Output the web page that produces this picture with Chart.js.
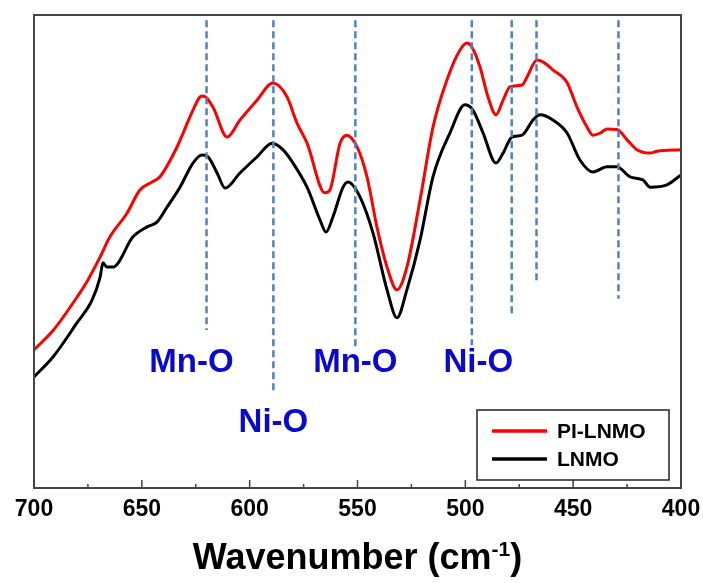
<!doctype html>
<html>
<head>
<meta charset="utf-8" />
<title>FTIR spectra | PI-LNMO vs LNMO</title>
<script src="https://cdn.jsdelivr.net/npm/chart.js@4.4.0/dist/chart.umd.min.js"></script>
<style>
	html, body { margin: 0; padding: 0; background: #fff; }
	canvas { display: block; }
</style>
</head>
<body>
<canvas id="ftir" width="703" height="583"></canvas>
<script>
// spectra (wavenumber in cm-1, intensity in arbitrary units)
const wavenumberPI = [700, 691, 680, 675, 669.4, 664.8, 656.9, 650.9, 645.3, 641.6, 633.7, 626.3, 623, 621.6, 617, 610.5, 604.5, 596.6, 589.2, 582.7, 578.1, 573.4, 565.1, 562.8, 558.1, 554.9, 550.2, 545.6, 541, 536.3, 531.7, 527.1, 521, 515, 508.5, 502.5, 499.2, 496.9, 493.2, 489.5, 485.8, 482.5, 479.3, 473.7, 471.4, 466.8, 464, 459.4, 452.9, 448.2, 443.6, 440.8, 437.6, 434.3, 429.7, 425, 420.4, 414.4, 411.1, 400];
const intensityPI = [29.2, 33.4, 40.4, 44.0, 48.8, 53.1, 58.1, 63.0, 64.7, 65.8, 72.1, 79.9, 82.7, 82.9, 80.5, 74.2, 77.8, 82.0, 85.6, 82.7, 77.2, 72.9, 62.4, 63.0, 72.9, 74.6, 72.1, 65.8, 55.2, 46.7, 41.9, 46.7, 60.9, 76.3, 86.3, 92.6, 94.1, 93.2, 89.0, 82.7, 78.9, 82.0, 84.8, 85.2, 86.9, 90.5, 90.1, 88.4, 85.8, 80.5, 76.3, 74.6, 75.0, 75.9, 75.8, 73.6, 71.5, 70.8, 71.2, 71.5];

const wavenumberLNMO = [700, 691.2, 680.1, 673.1, 669.4, 668, 666.2, 663.4, 654.1, 647.6, 643, 638.3, 632.3, 626.3, 622.1, 619.3, 615.1, 611.4, 604.5, 596.6, 589.6, 584.5, 579.9, 573.4, 567.4, 564.6, 561.4, 556.7, 554.4, 548.8, 542.8, 536.3, 531.7, 527.1, 521, 515, 507.1, 500.2, 496.5, 491.8, 485.8, 482.5, 478.4, 473.7, 468.6, 465.4, 459.4, 452.9, 446.8, 440.8, 434.3, 429.7, 423.7, 417.6, 414.4, 406.5, 400];
const intensityLNMO = [23.5, 27.7, 34.9, 39.7, 44.5, 47.6, 46.7, 46.7, 53.1, 55.2, 56.2, 59.4, 63.6, 68.7, 70.4, 70.0, 66.6, 63.4, 66.6, 70.0, 72.9, 71.5, 68.7, 63.6, 56.7, 54.1, 57.3, 63.6, 64.7, 61.5, 53.9, 41.9, 36.0, 41.9, 52.4, 65.8, 75.1, 81.0, 79.9, 75.1, 68.7, 70.8, 74.2, 74.6, 77.8, 78.9, 77.8, 75.1, 69.3, 66.8, 67.9, 67.9, 65.8, 65.1, 63.6, 64.1, 66.2];

// dashed marker lines (wavenumber, upper and lower end in intensity units)
const peakWavenumbers = [620, 589, 551, 497, 478.5, 467, 429];
const peakLineTop = [98.9, 98.9, 98.9, 98.9, 98.9, 98.9, 98.9];
const peakLineBottom = [33.4, 20.3, 29.8, 30.2, 36.6, 43.3, 40.0];

// band assignments
const bandLabels = ["Mn-O", "Ni-O", "Mn-O", "Ni-O"];
const bandLabelX = [627, 589, 551, 494];
const bandLabelY = [26.4, 13.7, 26.4, 26.4];

const xTicks = [700, 650, 600, 550, 500, 450, 400];
const seriesNames = ["PI-LNMO", "LNMO"];
const seriesColors = ["#ff0000", "#000000"];

const FONT = '"Liberation Sans", Arial, sans-serif';

function toPoints(xs, ys) {
	return xs.map((x, i) => ({ x: x, y: ys[i] }));
}

const markerSets = peakWavenumbers.map((w, i) => ({
	label: "",
	data: [{ x: w, y: peakLineTop[i] }, { x: w, y: peakLineBottom[i] }],
	borderColor: "#4f81bd",
	borderWidth: 2.5,
	borderDash: [7, 4],
	pointRadius: 0,
	order: 0,
}));

const decorations = {
	id: "decorations",
	afterDraw(chart) {
		const { ctx, chartArea: a, scales: { x, y } } = chart;
		ctx.save();

		// frame
		ctx.strokeStyle = "#444";
		ctx.lineWidth = 2;
		ctx.strokeRect(a.left, a.top, a.right - a.left, a.bottom - a.top);

		// inward tick marks, minor every 25
		ctx.lineWidth = 1.5;
		for (let v = 400; v <= 700; v += 25) {
			const px = x.getPixelForValue(v);
			const len = v % 50 === 0 ? 8 : 4;
			ctx.beginPath();
			ctx.moveTo(px, a.bottom);
			ctx.lineTo(px, a.bottom - len);
			ctx.stroke();
		}

		// band labels
		ctx.fillStyle = "#0a0acc";
		ctx.font = "bold 33px " + FONT;
		ctx.textAlign = "center";
		ctx.textBaseline = "middle";
		bandLabels.forEach((t, i) => {
			ctx.fillText(t, x.getPixelForValue(bandLabelX[i]), y.getPixelForValue(bandLabelY[i]));
		});

		// legend
		const bw = 192, bh = 70;
		const bx = a.right - 12 - bw, by = a.bottom - 8 - bh;
		ctx.strokeStyle = "#222";
		ctx.lineWidth = 1.5;
		ctx.strokeRect(bx, by, bw, bh);
		ctx.font = "bold 21px " + FONT;
		ctx.textAlign = "left";
		seriesNames.forEach((name, i) => {
			const ly = by + 21 + i * 28;
			ctx.strokeStyle = seriesColors[i];
			ctx.lineWidth = 3.5;
			ctx.beginPath();
			ctx.moveTo(bx + 15, ly);
			ctx.lineTo(bx + 70, ly);
			ctx.stroke();
			ctx.fillStyle = "#000";
			ctx.fillText(name, bx + 80, ly + 1);
		});

		// axis title with superscript
		const main = "Wavenumber (cm", sup = "-1", close = ")";
		ctx.fillStyle = "#000";
		ctx.textBaseline = "alphabetic";
		ctx.font = "bold 36px " + FONT;
		const wMain = ctx.measureText(main).width;
		const wClose = ctx.measureText(close).width;
		ctx.font = "bold 21px " + FONT;
		const wSup = ctx.measureText(sup).width;
		let tx = (a.left + a.right) / 2 - (wMain + wSup + wClose) / 2;
		const base = a.bottom + 81;
		ctx.font = "bold 36px " + FONT;
		ctx.fillText(main, tx, base);
		tx += wMain;
		ctx.font = "bold 21px " + FONT;
		ctx.fillText(sup, tx, base - 13);
		tx += wSup;
		ctx.font = "bold 36px " + FONT;
		ctx.fillText(close, tx, base);

		ctx.restore();
	},
};

new Chart(document.getElementById("ftir").getContext("2d"), {
	type: "line",
	data: {
		datasets: [
			{
				label: seriesNames[0],
				data: toPoints(wavenumberPI, intensityPI),
				borderColor: seriesColors[0],
				borderWidth: 3,
				pointRadius: 0,
				cubicInterpolationMode: "monotone",
				order: 1,
			},
			{
				label: seriesNames[1],
				data: toPoints(wavenumberLNMO, intensityLNMO),
				borderColor: seriesColors[1],
				borderWidth: 3,
				pointRadius: 0,
				cubicInterpolationMode: "monotone",
				order: 2,
			},
			...markerSets,
		],
	},
	options: {
		responsive: false,
		animation: false,
		layout: { padding: { left: 34, right: 22, top: 15, bottom: 0 } },
		plugins: {
			legend: { display: false },
			tooltip: { enabled: false },
		},
		scales: {
			x: {
				type: "linear",
				reverse: true,
				min: 400,
				max: 700,
				afterFit(scale) {
					scale.height = 95;
					scale.paddingLeft = 0;
					scale.paddingRight = 0;
				},
				afterBuildTicks(scale) { scale.ticks = xTicks.map((v) => ({ value: v })); },
				grid: { display: false, drawTicks: false },
				border: { display: false },
				ticks: {
					color: "#000",
					padding: 8,
					maxRotation: 0,
					font: { family: FONT, size: 23, weight: "bold" },
				},
			},
			y: {
				type: "linear",
				min: 0,
				max: 100,
				display: false,
			},
		},
	},
	plugins: [decorations],
});
</script>
</body>
</html>
